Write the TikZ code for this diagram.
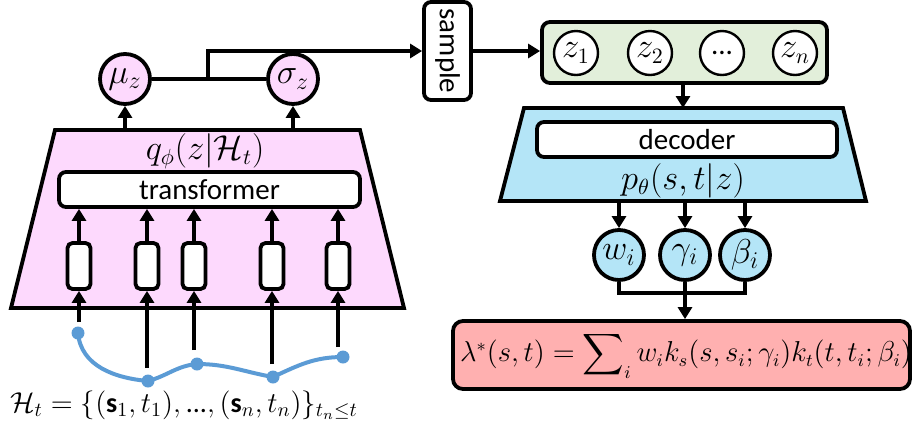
\documentclass[tikz,border=0pt]{standalone}
\usepackage{amsmath}
\usepackage{fontspec}
\setmainfont{Carlito}
\setsansfont{Carlito}
\usetikzlibrary{arrows.meta,calc}
\definecolor{pinkf}{RGB}{253,217,253}
\definecolor{bluef}{RGB}{180,229,247}
\definecolor{greenf}{RGB}{226,239,218}
\definecolor{redf}{RGB}{255,176,176}
\definecolor{curveb}{RGB}{91,155,213}
\begin{document}
\begin{tikzpicture}[x=0.5pt,y=-0.5pt,
  font=\fontsize{14.5}{17}\selectfont,
  lw/.style={line width=1.9pt},
  arr/.style={lw,-{Triangle[length=6pt,width=7pt]}},
  circ/.style={circle,draw,lw,inner sep=0pt,minimum size=25pt,font=\fontsize{17}{20}\selectfont},
  zcirc/.style={circle,draw,line width=1.2pt,fill=white,inner sep=0pt,minimum size=22pt,font=\fontsize{16}{19}\selectfont},
  rbox/.style={draw,lw,rounded corners=3.5pt,inner sep=0pt,fill=white},
  tok/.style={draw,lw,rounded corners=2.5pt,fill=white,inner sep=0pt,minimum width=11.5pt,minimum height=23pt},
  dot/.style={circle,fill=curveb,inner sep=0pt,minimum size=6.5pt},
  curve/.style={draw=curveb,line width=2pt}]
\useasboundingbox (0,0) rectangle (912,430);

% ---------- encoder ----------
\coordinate (eTL) at (55,130);
\coordinate (eTR) at (360,130);
\coordinate (eBR) at (404,308);
\coordinate (eBL) at (11,308);
\draw[lw,fill=pinkf] (eTL) -- (eTR) -- (eBR) -- (eBL) -- cycle;
\node[font=\fontsize{16}{19}\selectfont,inner sep=1pt] (qlab) at (205,151) {$q_\phi(z|\mathcal{H}_t)$};
\node[rbox,minimum width=150.5pt,minimum height=17.5pt] (trans) at (209.5,189.5) {transformer};

\node[circ,fill=pinkf] (mu) at (125,79) {$\mu_z$};
\node[circ,fill=pinkf] (sigma) at (293,79) {$\sigma_z$};
\draw[arr] (mu |- eTL) -- (mu.south);
\draw[arr] (sigma |- eTL) -- (sigma.south);

% tokens
\foreach \i/\x in {1/79,2/147,3/194,4/272,5/338}{
  \node[tok] (t\i) at (\x,266) {};
  \draw[arr] (t\i.north) -- (t\i.north |- trans.south);
}
\coordinate (s1) at (79,322);
\coordinate (s2) at (147,368);
\coordinate (s3) at (194,350);
\coordinate (s4) at (272,364);
\coordinate (s5) at (338,347);
\foreach \i in {1,...,5}{\draw[arr] (s\i) -- (t\i.south);}

% history curve
\node[dot] (d1) at (78,333) {};
\node[dot] (d2) at (148,381) {};
\node[dot] (d3) at (197,364) {};
\node[dot] (d4) at (273,377) {};
\node[dot] (d5) at (343,357) {};
\draw[curve] (d1.center) to[out=-85,in=175] (d2.center)
  to[out=15,in=185] (d3.center)
  to[out=0,in=170] (d4.center)
  to[out=25,in=180] (d5.center);
\node[anchor=west,inner sep=0pt,font=\fontsize{14}{17}\selectfont] (hist) at (10,405)
  {$\mathcal{H}_t=\{(\mathbf{s}_1,t_1),\text{...},(\mathbf{s}_n,t_n)\}_{t_n\leq t}$};

% ---------- sampling ----------
\node[rbox,rotate=-90,minimum width=49pt,minimum height=23.5pt] (sample) at (447.5,51) {sample};
\coordinate (junc) at (208,79);
\draw[lw] (mu.east) -- (junc);
\draw[lw] (sigma.west) -- (junc);
\draw[arr] (junc) |- (sample.south);

\node[draw,lw,rounded corners=4pt,fill=greenf,minimum width=142.5pt,minimum height=30.5pt] (zbox) at (684.5,52.5) {};
\node[zcirc] (z1) at (576,53) {$z_1$};
\node[zcirc] (z2) at (650,53) {$z_2$};
\node[zcirc,font=\fontsize{14.5}{17}\selectfont] (z3) at (722,53) {...};
\node[zcirc] (zn) at (795,53) {$z_n$};
\draw[arr] (sample.north) -- (sample.north -| zbox.west);

% ---------- decoder ----------
\coordinate (dTL) at (524,108);
\coordinate (dTR) at (843,108);
\coordinate (dBR) at (866,201);
\coordinate (dBL) at (500,201);
\draw[lw,fill=bluef] (dTL) -- (dTR) -- (dBR) -- (dBL) -- cycle;
\draw[arr] (zbox.south -| 683,0) -- (683,108);
\node[rbox,minimum width=150pt,minimum height=17.5pt] (dec) at (687,139.5) {decoder};
\node[font=\fontsize{16}{19}\selectfont,inner sep=1pt] (plab) at (683,181) {$p_\theta(s,t|z)$};

\node[circ,fill=bluef] (w) at (619,255) {$w_i$};
\node[circ,fill=bluef] (g) at (685,255) {$\gamma_i$};
\node[circ,fill=bluef] (b) at (745,255) {$\beta_i$};
\foreach \n in {w,g,b}{\draw[arr] (\n |- dBL) -- (\n.north);}

\node[draw,lw,rounded corners=5pt,fill=redf,minimum width=228.5pt,minimum height=34pt,inner sep=0pt] (lam) at (681.5,355) {};
\node[inner sep=0pt,font=\fontsize{13.4}{16}\selectfont] (lamtext) at (686,355)
  {$\lambda^*(s,t)=\displaystyle\sum\nolimits_i w_i k_s(s,s_i;\gamma_i)k_t(t,t_i;\beta_i)$};
\coordinate (merge) at (685,293);
\draw[lw] (w.south) |- (merge);
\draw[lw] (b.south) |- (merge);
\draw[lw] (g.south) -- (merge);
\draw[arr] (merge) -- (merge |- lam.north);
\end{tikzpicture}
\end{document}
